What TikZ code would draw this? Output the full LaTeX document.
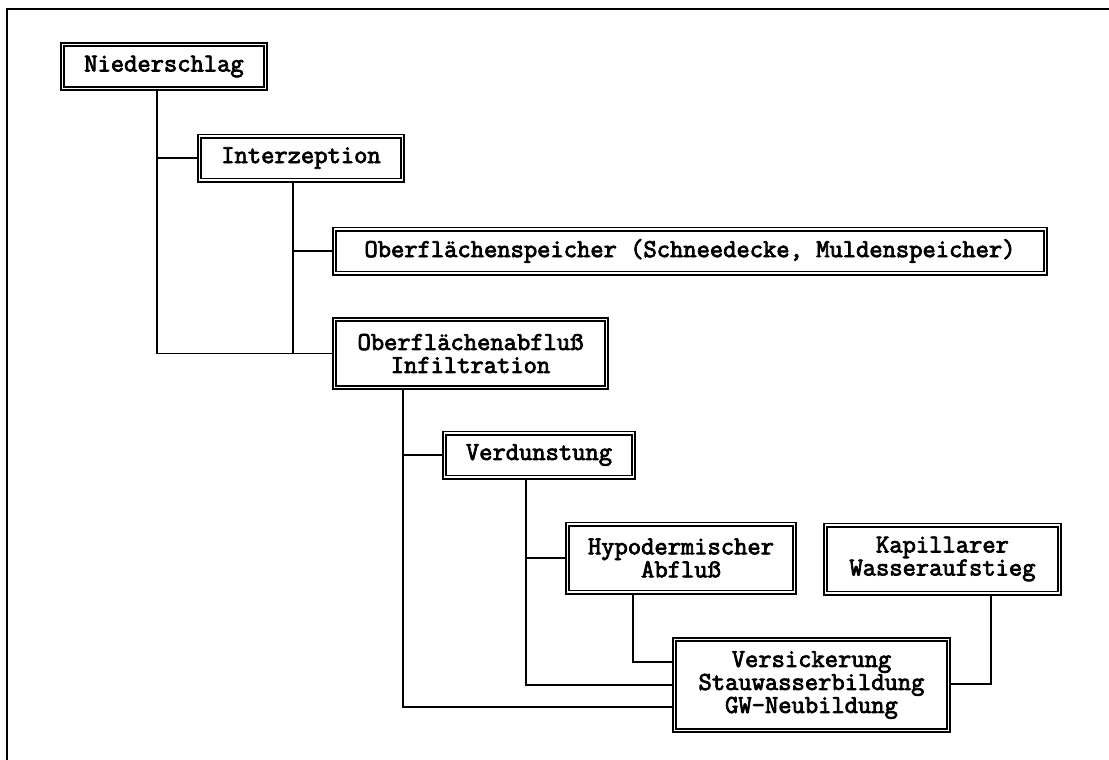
\documentclass[tikz,border=0pt]{standalone}
\usepackage{fontspec}
\newfontfamily\boxfont{Latin Modern Mono}[FakeBold=3]
\begin{document}
\begin{tikzpicture}[
    x=0.5pt, y=-0.5pt,
    box/.style={rectangle, draw, line width=0.8pt, double, double distance=0.9pt, inner sep=0pt, align=center,
        font=\fontsize{12.9}{11.5}\selectfont\boxfont\bfseries},
    one/.style={box, minimum height=22pt},
    two/.style={box, minimum height=34pt},
    three/.style={box, minimum height=45.5pt},
    line/.style={line width=0.75pt}
]
    \useasboundingbox (0,0) rectangle (1109,760);
    % Frame
    \draw [line] (7,760) -- (7,9) -- (1109,9);

    % Boxes
    \node (nied) [one, minimum width=101.5pt] at (164,66.5) {Niederschlag};
    \node (inter) [one, minimum width=101.5pt] at (301,158) {Interzeption};
    \node (speich) [one, minimum width=355.5pt] at (690,251) {Oberflächenspeicher (Schneedecke, Muldenspeicher)};
    \node (abfl) [two, minimum width=136pt] at (470.5,353.5) {Oberflächenabfluß\\Infiltration};
    \node (verd) [one, minimum width=94.5pt] at (539,455) {Verdunstung};
    \node (hypo) [two, minimum width=113.5pt] at (681,558) {Hypodermischer\\Abfluß};
    \node (kap) [two, minimum width=117pt] at (942.5,559) {Kapillarer\\Wasseraufstieg};
    \node (vers) [three, minimum width=137pt] at (811.5,685) {Versickerung\\Stauwasserbildung\\GW-Neubildung};

    % Junctions
    \coordinate (j1) at (157,353.5);
    \coordinate (j2) at (293,353.5);
    \coordinate (j3) at (403,707);
    \coordinate (j4) at (526,685);
    \coordinate (j5) at (633,662);
    \coordinate (j6) at (991,684);

    % Lines
    \draw [line] (j1 |- nied.south) |- (abfl.west);
    \draw [line] (j1 |- inter.west) -- (inter.west);
    \draw [line] (j2 |- inter.south) -- (j2);
    \draw [line] (j2 |- speich.west) -- (speich.west);
    \draw [line] (j3 |- abfl.south) |- (j3 -| vers.west);
    \draw [line] (j3 |- verd.west) -- (verd.west);
    \draw [line] (j4 |- verd.south) |- (j4 -| vers.west);
    \draw [line] (j4 |- hypo.west) -- (hypo.west);
    \draw [line] (j5 |- hypo.south) |- (j5 -| vers.west);
    \draw [line] (j6 |- kap.south) |- (j6 -| vers.east);
\end{tikzpicture}
\end{document}
